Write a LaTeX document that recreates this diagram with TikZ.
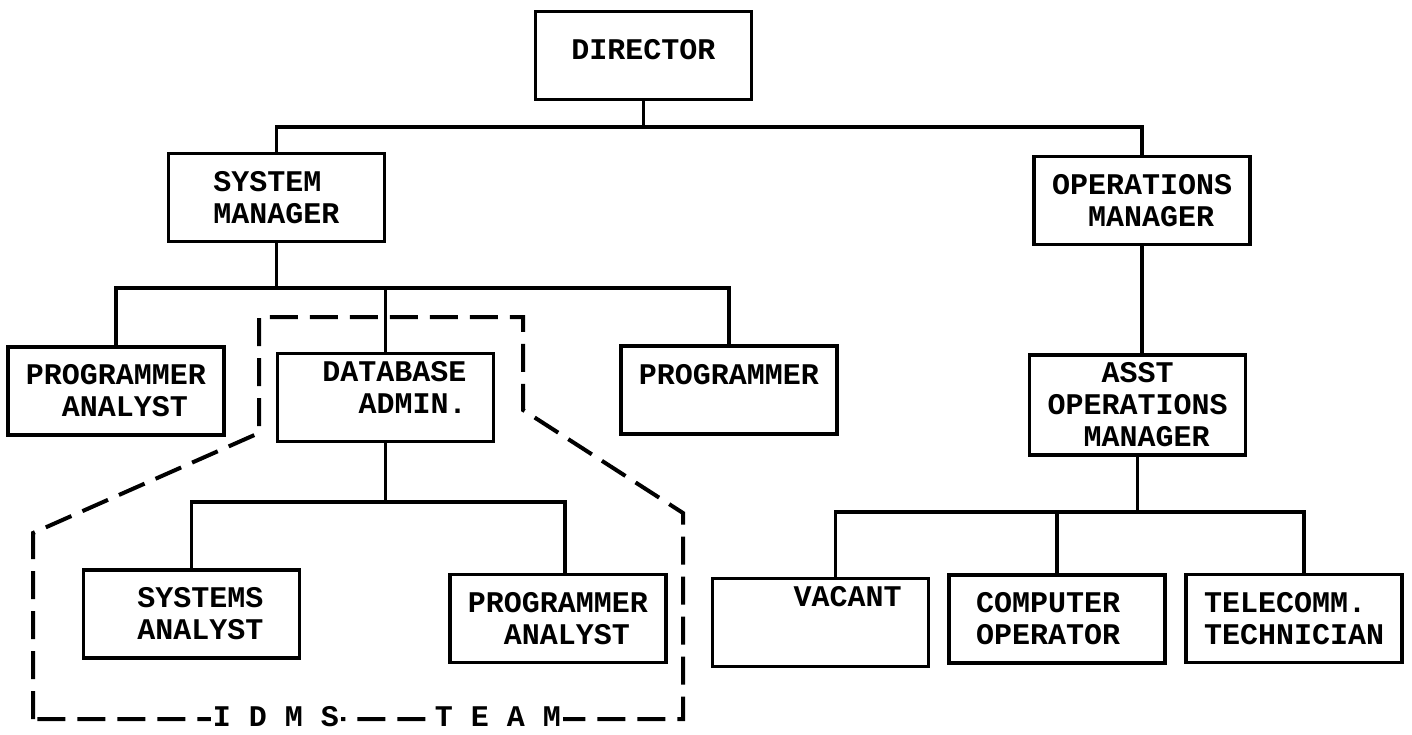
\documentclass[tikz,border=0pt]{standalone}
\usepackage{fontspec}
\setmonofont{Liberation Mono}
\tikzset{
  post/.style={draw, line width=1.7pt, minimum width=108pt, minimum height=44pt,
    inner sep=0pt, align=left, font=\ttfamily\bfseries\fontsize{15}{16}\selectfont},
  link/.style={line width=1.8pt},
  team/.style={line width=2pt, dash pattern=on 14pt off 6pt},
  teamtag/.style={fill=white, inner sep=1pt, font=\ttfamily\bfseries\fontsize{15}{16}\selectfont}
}
\begin{document}
\begin{tikzpicture}[x=0.5pt,y=-0.5pt]
\useasboundingbox (0,0) rectangle (1412,734);
% bus levels
\coordinate (topbus) at (0,127);
\coordinate (smbus) at (0,288);
\coordinate (dbbus) at (0,502);
\coordinate (aobus) at (0,512);
% posts
\node[post] (dir) at (643.5,55.5) {DIRECTOR\\[-10pt]~};
\node[post] (sysmgr) at (276.5,197.5) {SYSTEM\\MANAGER};
\node[post] (opsmgr) at (1142,200.5) {OPERATIONS\\\phantom{XX}MANAGER};
\node[post] (proganl) at (116,391) {PROGRAMMER\\\phantom{XX}ANALYST};
\node[post] (dba) at (385.5,397.5) {\phantom{X}DATABASE\\\phantom{XXX}ADMIN.\\[-6pt]~};
\node[post] (prog) at (729,390) {PROGRAMMER\\~};
\node[post, minimum height=50pt] (asst) at (1137.5,405) {\phantom{XXX}ASST\\OPERATIONS\\\phantom{XX}MANAGER};
\node[post] (sysanl) at (191.5,614) {\phantom{X}SYSTEMS\\\phantom{X}ANALYST};
\node[post] (pganl) at (558,618.5) {PROGRAMMER\\\phantom{XX}ANALYST};
\node[post] (vacant) at (820.5,622.5) {\phantom{XXX}VACANT\\[10pt]~};
\node[post] (compop) at (1057,619) {COMPUTER\phantom{X}\\OPERATOR};
\node[post] (tele) at (1294,618.5) {TELECOMM.\\TECHNICIAN};
% stems off centre
\coordinate (vacin) at ([xshift=7.5pt]vacant.north);
\coordinate (pgin) at ([xshift=3.5pt]pganl.north);
\coordinate (telin) at ([xshift=5pt]tele.north);
% connectors
\draw[link] (dir.south) -- (dir.south |- topbus);
\draw[link] (sysmgr.north) -- (sysmgr.north |- topbus) -- (opsmgr.north |- topbus) -- (opsmgr.north);
\draw[link] (sysmgr.south) -- (sysmgr.south |- smbus);
\draw[link] (proganl.north) -- (proganl.north |- smbus) -- (prog.north |- smbus) -- (prog.north);
\draw[link] (dba.north) -- (dba.north |- smbus);
\draw[link] (dba.south) -- (dba.south |- dbbus);
\draw[link] (sysanl.north) -- (sysanl.north |- dbbus) -- (pgin |- dbbus) -- (pgin);
\draw[link] (opsmgr.south) -- (opsmgr.south |- asst.north);
\draw[link] (asst.south) -- (asst.south |- aobus);
\draw[link] (vacin) -- (vacin |- aobus) -- (telin |- aobus) -- (telin);
\draw[link] (compop.north) -- (compop.north |- aobus);
% IDMS team
\draw[team] (33,719) -- (33,533) -- (259,433) -- (259,317) -- (523,317) -- (523,410)
  -- (683,513) -- (683,719) -- cycle;
\node[teamtag] (idms) at (276,717) {I D M S};
\node[teamtag] (teamword) at (498,717) {T E A M};
\end{tikzpicture}
\end{document}
